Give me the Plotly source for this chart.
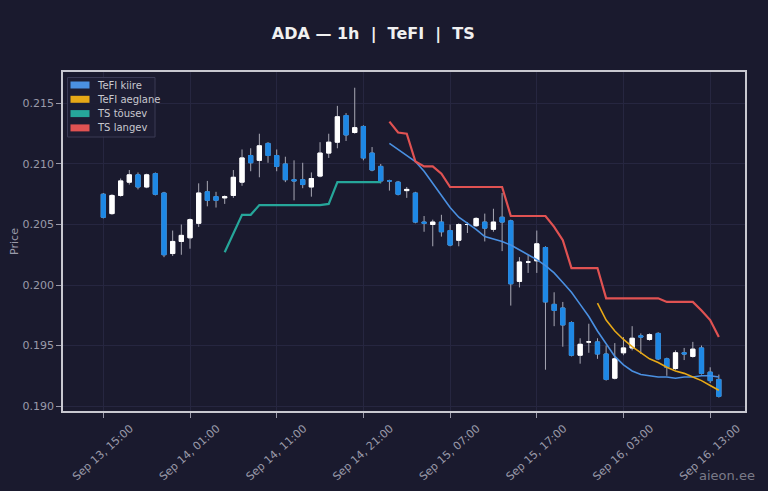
import plotly.graph_objects as go
import pandas as pd

# 1h candles, Sep 13 15:00 -> Sep 16 14:00
times = pd.date_range("2024-09-13 15:00", periods=72, freq="h")

opens = [0.2075, 0.2059, 0.2074, 0.2085, 0.2091, 0.2081, 0.2092, 0.2076, 0.2026, 0.2036,
         0.2039, 0.2051, 0.2077, 0.2073, 0.2072, 0.2074, 0.2085, 0.2107, 0.2103, 0.2117,
         0.2107, 0.2100, 0.2087, 0.2087, 0.2081, 0.2090, 0.2109, 0.2118, 0.2140, 0.2126,
         0.2131, 0.2109, 0.2098, 0.2086, 0.2085, 0.2078, 0.2076, 0.2052, 0.2050, 0.2052,
         0.2045, 0.2037, 0.2050, 0.2049, 0.2052, 0.2046, 0.2056, 0.2053, 0.2003, 0.2019,
         0.2020, 0.2031, 0.1984, 0.1981, 0.1969, 0.1942, 0.1953, 0.1953, 0.1943, 0.1923,
         0.1944, 0.1948, 0.1958, 0.1955, 0.1960, 0.1939, 0.1931, 0.1944, 0.1941, 0.1948,
         0.1928, 0.1922]
highs = [0.2076, 0.2075, 0.2088, 0.2095, 0.2093, 0.2092, 0.2093, 0.2077, 0.2045, 0.2050,
         0.2055, 0.2084, 0.2086, 0.2077, 0.2074, 0.2095, 0.2112, 0.2113, 0.2125, 0.2118,
         0.2112, 0.2106, 0.2103, 0.2101, 0.2093, 0.2118, 0.2125, 0.2148, 0.2142, 0.2163,
         0.2132, 0.2114, 0.2100, 0.2087, 0.2086, 0.2081, 0.2077, 0.2057, 0.2054, 0.2058,
         0.2050, 0.2051, 0.2052, 0.2056, 0.2059, 0.2063, 0.2076, 0.2054, 0.2023, 0.2025,
         0.2045, 0.2032, 0.1994, 0.1986, 0.1970, 0.1956, 0.1968, 0.1956, 0.1950, 0.1952,
         0.1957, 0.1966, 0.1960, 0.1960, 0.1961, 0.1940, 0.1946, 0.1948, 0.1953, 0.1950,
         0.1932, 0.1926]
lows = [0.2055, 0.2058, 0.2073, 0.2083, 0.2079, 0.2080, 0.2074, 0.2023, 0.2024, 0.2025,
        0.2030, 0.2048, 0.2065, 0.2064, 0.2067, 0.2072, 0.2082, 0.2094, 0.2089, 0.2101,
        0.2094, 0.2085, 0.2070, 0.2080, 0.2073, 0.2089, 0.2105, 0.2113, 0.2119, 0.2125,
        0.2103, 0.2094, 0.2084, 0.2078, 0.2074, 0.2072, 0.2051, 0.2044, 0.2032, 0.2040,
        0.2032, 0.2032, 0.2043, 0.2048, 0.2036, 0.2044, 0.2028, 0.1983, 0.1998, 0.2010,
        0.2010, 0.1930, 0.1966, 0.1949, 0.1941, 0.1935, 0.1944, 0.1939, 0.1921, 0.1922,
        0.1942, 0.1946, 0.1943, 0.1954, 0.1938, 0.1925, 0.1930, 0.1938, 0.1940, 0.1926,
        0.1919, 0.1907]
closes = [0.2056, 0.2074, 0.2086, 0.2091, 0.2081, 0.2091, 0.2075, 0.2025, 0.2036, 0.2041,
          0.2054, 0.2076, 0.2070, 0.2070, 0.2073, 0.2089, 0.2105, 0.2101, 0.2115, 0.2107,
          0.2098, 0.2087, 0.2086, 0.2083, 0.2088, 0.2109, 0.2118, 0.2139, 0.2124, 0.2130,
          0.2105, 0.2095, 0.2086, 0.2086, 0.2075, 0.2079, 0.2052, 0.2051, 0.2052, 0.2044,
          0.2033, 0.2050, 0.2050, 0.2055, 0.2047, 0.2052, 0.2052, 0.2001, 0.2019, 0.2019,
          0.2034, 0.1986, 0.1979, 0.1967, 0.1942, 0.1951, 0.1953, 0.1943, 0.1922, 0.1939,
          0.1948, 0.1956, 0.1957, 0.1959, 0.1939, 0.1932, 0.1944, 0.1943, 0.1947, 0.1927,
          0.1921, 0.1908]

# indicator lines
ts_up_start = 14
ts_up = [0.2027, 0.2042, 0.2058, 0.2058, 0.2066, 0.2066, 0.2066, 0.2066, 0.2066, 0.2066,
         0.2066, 0.2066, 0.2067, 0.2085, 0.2085, 0.2085, 0.2085, 0.2085, 0.2085]

ts_down_start = 33
ts_down = [0.2135, 0.2126, 0.2125, 0.2102, 0.2098, 0.2098, 0.2092, 0.2081, 0.2081, 0.2081,
           0.2081, 0.2081, 0.2081, 0.2081, 0.2057, 0.2057, 0.2057, 0.2057, 0.2057, 0.2048,
           0.2037, 0.2014, 0.2014, 0.2014, 0.2014, 0.1989, 0.1989, 0.1989, 0.1989, 0.1989,
           0.1989, 0.1989, 0.1986, 0.1986, 0.1986, 0.1986, 0.1979, 0.1971, 0.1957]

fast_start = 33
tefi_fast = [0.2117, 0.2112, 0.2107, 0.2102, 0.2094, 0.2084, 0.2075, 0.2064, 0.2056, 0.2051,
             0.2046, 0.2040, 0.2038, 0.2036, 0.2033, 0.2029, 0.2025, 0.2021, 0.2016, 0.2010,
             0.2002, 0.1994, 0.1984, 0.1974, 0.1962, 0.1951, 0.1941, 0.1934, 0.1929, 0.1926,
             0.1925, 0.1924, 0.1924, 0.1923, 0.1924, 0.1924, 0.1925, 0.1925, 0.1924]

slow_start = 57
tefi_slow = [0.1985, 0.1971, 0.1962, 0.1955, 0.1949, 0.1944, 0.1939, 0.1936, 0.1932, 0.1929,
             0.1927, 0.1924, 0.1921, 0.1917, 0.1913]

legend_names = ['TeFI kiire', 'TeFI aeglane', 'TS tõusev', 'TS langev']

bg = '#1a1a2e'
c_fast = '#4a90e2'
c_slow = '#e6a817'
c_up = '#26a69a'
c_down = '#e05252'
c_inc = '#ffffff'
c_dec = '#1e88e5'
c_wick = '#a8a8b4'

fig = go.Figure()

# wicks (grey)
fig.add_trace(go.Candlestick(
    x=times, open=opens, high=highs, low=lows, close=closes,
    increasing=dict(line=dict(color=c_wick, width=1), fillcolor=c_inc),
    decreasing=dict(line=dict(color=c_wick, width=1), fillcolor=c_dec),
    showlegend=False, hoverinfo='skip'))
# bodies drawn again on top so they carry no grey outline
body_top = [max(o, c) for o, c in zip(opens, closes)]
body_bot = [min(o, c) for o, c in zip(opens, closes)]
fig.add_trace(go.Candlestick(
    x=times, open=opens, high=body_top, low=body_bot, close=closes,
    increasing=dict(line=dict(color=c_inc, width=1), fillcolor=c_inc),
    decreasing=dict(line=dict(color=c_dec, width=1), fillcolor=c_dec),
    showlegend=False, name='ADA'))

fig.add_trace(go.Scatter(x=times[fast_start:fast_start + len(tefi_fast)], y=tefi_fast,
                         mode='lines', line=dict(color=c_fast, width=1.6), name=legend_names[0]))
fig.add_trace(go.Scatter(x=times[slow_start:slow_start + len(tefi_slow)], y=tefi_slow,
                         mode='lines', line=dict(color=c_slow, width=1.6), name=legend_names[1]))
fig.add_trace(go.Scatter(x=times[ts_up_start:ts_up_start + len(ts_up)], y=ts_up,
                         mode='lines', line=dict(color=c_up, width=2.2), name=legend_names[2]))
fig.add_trace(go.Scatter(x=times[ts_down_start:ts_down_start + len(ts_down)], y=ts_down,
                         mode='lines', line=dict(color=c_down, width=2.2), name=legend_names[3]))

# compact legend box: background, colour swatches and labels
shapes = [dict(type='rect', xref='paper', yref='paper', xsizemode='pixel', ysizemode='pixel',
               xanchor=0, yanchor=1, x0=4.5, x1=92, y0=-5.5, y1=-65,
               fillcolor='rgba(30,30,52,0.9)', line=dict(color='#3a3a55', width=1), layer='above')]
annotations = []
for i, (name, col) in enumerate(zip(legend_names, [c_fast, c_slow, c_up, c_down])):
    yc = -13 - 14.3 * i
    shapes.append(dict(type='rect', xref='paper', yref='paper', xsizemode='pixel',
                       ysizemode='pixel', xanchor=0, yanchor=1, x0=7.5, x1=26.5,
                       y0=yc - 3.5, y1=yc + 3.5, fillcolor=col, line=dict(width=0),
                       layer='above'))
    annotations.append(dict(text=name, xref='paper', yref='paper', x=0, y=1,
                            xanchor='left', yanchor='middle', xshift=32, yshift=yc,
                            showarrow=False, font=dict(size=10, color='#c8c8d0')))

annotations.append(dict(text='aieon.ee', xref='paper', yref='paper', x=1.0176, y=-0.189,
                        xanchor='right', yanchor='middle', showarrow=False,
                        font=dict(size=13, color='#7a7a88')))

fig.update_xaxes(
    range=[pd.Timestamp("2024-09-13 10:21"), pd.Timestamp("2024-09-16 17:01")],
    rangeslider_visible=False, automargin=False,
    tickvals=times[::10], tickformat='%b %d, %H:%M', tickangle=-42,
    ticklabelshift=27, ticklabelstandoff=0,
    tickfont=dict(size=11, color='#9a9aaa'),
    showgrid=True, gridcolor='#262640', gridwidth=1,
    showline=True, linecolor='#c8c8d0', linewidth=1.5, mirror=True,
    ticks='outside', tickcolor='#9a9aaa', ticklen=5, zeroline=False)
fig.update_yaxes(
    range=[0.18959, 0.2176], dtick=0.005, tickformat='.3f', automargin=False,
    tickfont=dict(size=11, color='#9a9aaa'),
    title=dict(text='Price', font=dict(size=11, color='#9a9aaa'), standoff=2),
    showgrid=True, gridcolor='#262640', gridwidth=1,
    showline=True, linecolor='#c8c8d0', linewidth=1.5, mirror=True,
    ticks='outside', tickcolor='#9a9aaa', ticklen=5, zeroline=False)

fig.update_layout(
    width=768, height=491,
    paper_bgcolor=bg, plot_bgcolor=bg,
    font=dict(family='DejaVu Sans', color='#d0d0d8'),
    title=dict(text='<b>ADA — 1h  |  TeFI  |  TS</b>', xref='container', x=0.486,
               xanchor='center', y=0.932, yanchor='middle',
               font=dict(size=16, color='#f0f0f0')),
    margin=dict(l=63, r=23, t=72, b=80),
    showlegend=False,
    shapes=shapes,
    annotations=annotations,
)

fig.write_html("out.html", config={'displayModeBar': False},
               post_script="document.body.style.margin='0';")
